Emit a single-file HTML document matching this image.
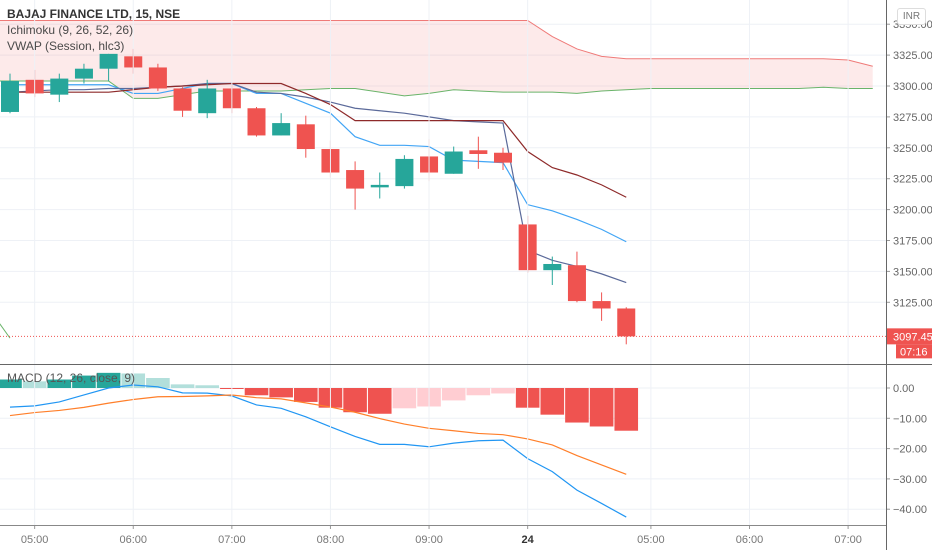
<!DOCTYPE html>
<html><head><meta charset="utf-8"><style>
body{margin:0;background:#fff;font-family:"Liberation Sans",sans-serif}
#wrap{position:relative;width:932px;height:550px;overflow:hidden}
svg{position:absolute;left:0;top:0}
.lg{position:absolute;left:7px;font-size:12px;color:#4a4a4a;white-space:nowrap}
</style></head><body>
<div id="wrap">
<svg id="chart" width="932" height="550"></svg>
<div class="lg" style="top:7px;font-weight:bold;color:#333">BAJAJ FINANCE LTD, 15, NSE</div>
<div class="lg" style="top:23px">Ichimoku (9, 26, 52, 26)</div>
<div class="lg" style="top:39px">VWAP (Session, hlc3)</div>
<div class="lg" style="top:371px;color:#555">MACD (12, 26, close, 9)</div>
<div style="position:absolute;left:897px;top:8px;width:27px;height:15px;border:1px solid #ddd;border-radius:3px;font-size:10px;color:#777;text-align:center;line-height:15px;background:#fff">INR</div>
</div>
<script>
const opens=[3279,3305,3293,3306,3314,3324,3315,3298,3278,3298,3282,3260,3269,3249,3232,3218,3219,3243,3229,3248,3246,3188,3151,3155,3126,3120];
const highs=[3310,3313,3310,3318,3326,3330,3318,3299,3305,3302,3283,3278,3276,3256,3239,3230,3244,3257,3251,3259,3250,3195,3162,3166,3133,3121];
const lows=[3278,3291,3287,3302,3304,3310,3296,3275,3274,3278,3259,3260,3242,3226,3200,3209,3217,3223,3229,3233,3232,3149,3139,3125,3110,3091];
const closes=[3304,3294,3306,3314,3326,3315,3298,3280,3298,3282,3260,3270,3249,3230,3217,3220,3241,3230,3247,3245,3238,3151,3156,3126,3120,3097.45];
const vwap=[3301,3301,3301,3301,3301,3294,3294,3298,3302,3302,3294,3294,3286,3278,3259,3252,3252,3251,3240,3239,3238,3204,3199,3192,3184,3174];
const tenkan=[3295,3296,3297,3297,3298,3298,3299,3300,3302,3302,3295,3294,3291,3287,3282,3280,3278,3275,3272,3271,3270,3167,3159,3154,3148,3141];
const kijun=[3295,3295,3295,3295,3295,3297,3299,3300,3301,3302,3302,3302,3294,3285,3272,3272,3272,3272,3272,3272,3272,3247,3234,3228,3220,3210];
const spanA=[3304,3304,3304,3304,3304,3290,3290,3293,3296,3296,3296,3296,3297,3298,3298,3295,3292,3294,3297,3296,3295,3295,3295,3294,3296,3297,3298,3298,3298,3298,3298,3298,3298,3299,3298,3298];
const spanB=[3353,3353,3353,3353,3353,3353,3353,3353,3353,3353,3353,3353,3353,3353,3353,3353,3353,3353,3353,3353,3353,3353,3340,3330,3324,3322,3322,3322,3322,3322,3322,3322,3322,3322,3321,3316];
const chikouIdx=[-0.5,0];
const chikou=[3110,3096];
const hist=[2.8,2.2,2.8,4.1,5.0,4.8,3.3,1.2,0.9,-0.3,-2.4,-3.1,-4.6,-6.5,-8.0,-8.5,-6.7,-6.1,-4.1,-2.4,-1.8,-6.5,-8.8,-11.4,-12.7,-14.1];
const macdLine=[-6.3,-5.9,-4.6,-2.3,0,1.0,0.4,-1.6,-1.7,-2.6,-5.6,-6.7,-9.5,-12.8,-16,-18.6,-18.6,-19.4,-18.2,-17.4,-17.2,-23.3,-27.6,-33.7,-38.1,-42.6];
const signalLine=[-9.1,-8.1,-7.4,-6.4,-5.0,-3.8,-2.9,-2.8,-2.6,-2.3,-3.2,-3.6,-4.9,-6.3,-8.0,-10.1,-11.9,-13.3,-14.1,-15.0,-15.4,-16.8,-18.8,-22.3,-25.4,-28.5];
const priceTicks=[3350,3325,3300,3275,3250,3225,3200,3175,3150,3125];
const macdTicks=[0,-10,-20,-30,-40];
const timeLabels=["05:00","06:00","07:00","08:00","09:00","24","05:00","06:00","07:00"];
const timeIdx=[1,5,9,13,17,21,26,30,34];
const lastPrice=3097.45;

const NS="http://www.w3.org/2000/svg";
const svg=document.getElementById('chart');
const X=i=>10+24.65*i;
const YP=v=>86+(3300-v)*1.236;
const YM=v=>388-v*3.03;
function mk(t,a,p){const e=document.createElementNS(NS,t);for(const k in a)e.setAttribute(k,a[k]);(p||svg).appendChild(e);return e;}

const defs=mk('defs',{});
const cp=mk('clipPath',{id:'mainclip'},defs);mk('rect',{x:0,y:0,width:886,height:364},cp);
const cp2=mk('clipPath',{id:'macdclip'},defs);mk('rect',{x:0,y:365,width:886,height:160},cp2);
const gMain=mk('g',{'clip-path':'url(#mainclip)'});


const gMacd=mk('g',{'clip-path':'url(#macdclip)'});



timeIdx.forEach((ti,k)=>{
  const l=mk('line',{x1:X(ti),x2:X(ti),y1:0,y2:525,stroke:'#eef1f6','stroke-width':1});
  
  
  const t=mk('text',{x:X(ti),y:543,'text-anchor':'middle','font-size':11,fill:ti===21?'#333':'#777','font-weight':ti===21?'bold':'normal'});
  t.textContent=timeLabels[k];
  
  
  mk('line',{x1:X(ti),x2:X(ti),y1:525,y2:529,stroke:'#999'});
});
priceTicks.forEach(v=>{
  const l=mk('line',{x1:0,x2:886,y1:YP(v),y2:YP(v),stroke:'#eef1f6'},gMain);
  
  
  mk('line',{x1:886,x2:890,y1:YP(v),y2:YP(v),stroke:'#999'});
  const t=mk('text',{x:893,y:YP(v)+4,'font-size':11,fill:'#666'});
  t.textContent=v.toFixed(2);
  
  
});
macdTicks.forEach(v=>{
  const l=mk('line',{x1:0,x2:886,y1:YM(v),y2:YM(v),stroke:'#eef1f6'},gMacd);
  
  
  mk('line',{x1:886,x2:890,y1:YM(v),y2:YM(v),stroke:'#999'});
  const t=mk('text',{x:893,y:YM(v)+4,'font-size':11,fill:'#666'});
  t.textContent=(v===0?'0.00':'\u2212'+Math.abs(v).toFixed(2));
  
  
});

function pts(arr,Y){return arr.map((v,i)=>X(i)+','+Y(v));}
const aP=pts(spanA,YP), bP=pts(spanB,YP);
const fill=mk('polygon',{points:['0,'+YP(spanB[0])].concat(bP,aP.slice().reverse(),['0,'+YP(spanA[0])]).join(' '),fill:'rgba(239,83,80,0.12)'},gMain);


const lb=mk('polyline',{points:['0,'+YP(spanB[0])].concat(bP).join(' '),fill:'none',stroke:'#ef7a78','stroke-width':1},gMain);


const la=mk('polyline',{points:['0,'+YP(spanA[0])].concat(aP).join(' '),fill:'none',stroke:'#6ab46a','stroke-width':1},gMain);


const ck=mk('polyline',{points:chikou.map((v,k)=>X(chikouIdx[k])+','+YP(v)).join(' '),fill:'none',stroke:'#6ab46a','stroke-width':1},gMain);



const lines=[[vwap,'#42a5f5','vwap-line'],[tenkan,'#5b6a9a','tenkan-line'],[kijun,'#8e2a2a','kijun-line']];
lines.forEach(([arr,c,n])=>{
  const p=mk('polyline',{points:pts(arr,YP).join(' '),fill:'none',stroke:c,'stroke-width':1.2},gMain);
  
  
});

opens.forEach((o,i)=>{
  const c=closes[i],up=c>=o,col=up?'#26a69a':'#ef5350';
  const g=mk('g',{},gMain);
  
  
  mk('line',{x1:X(i),x2:X(i),y1:YP(highs[i]),y2:YP(lows[i]),stroke:col,'stroke-width':1},g);
  const t=YP(Math.max(o,c)),b=YP(Math.min(o,c));
  mk('rect',{x:X(i)-9,y:t,width:18,height:Math.max(2,b-t),fill:col},g);
});

const lp=mk('line',{x1:0,x2:886,y1:YP(lastPrice),y2:YP(lastPrice),stroke:'#ef5350','stroke-dasharray':'1,2','stroke-width':1});


const lpb=mk('rect',{x:886,y:YP(lastPrice)-8,width:46,height:16,fill:'#ef5350'});


const lpt=mk('text',{x:893,y:YP(lastPrice)+4,'font-size':11,fill:'#fff'});lpt.textContent=lastPrice.toFixed(2);


mk('rect',{x:896,y:YP(lastPrice)+8,width:36,height:14,fill:'#ef5350'});
const ct=mk('text',{x:900,y:YP(lastPrice)+19,'font-size':11,fill:'#fff'});ct.textContent='07:16';



hist.forEach((v,i)=>{
  const prev=i>0?hist[i-1]:-Infinity;
  let col;
  if(v>=0) col=(v>=prev)?'#26a69a':'#b2dfdb';
  else col=(v<=prev)?'#ef5350':'#ffcdd2';
  const y0=YM(0),y1=YM(v);
  const r=mk('rect',{x:X(i)-11.8,y:Math.min(y0,y1),width:23.6,height:Math.max(1,Math.abs(y1-y0)),fill:col},gMacd);
  
  
});
const ml=mk('polyline',{points:pts(macdLine,YM).join(' '),fill:'none',stroke:'#2196f3','stroke-width':1.2},gMacd);


const sl=mk('polyline',{points:pts(signalLine,YM).join(' '),fill:'none',stroke:'#ff7f2a','stroke-width':1.2},gMacd);



const a1=mk('line',{x1:886.5,x2:886.5,y1:0,y2:550,stroke:'#666'});


const a2=mk('line',{x1:0,x2:932,y1:364.5,y2:364.5,stroke:'#666'});


const a3=mk('line',{x1:0,x2:886,y1:525.5,y2:525.5,stroke:'#888'});


</script>
</body></html>
